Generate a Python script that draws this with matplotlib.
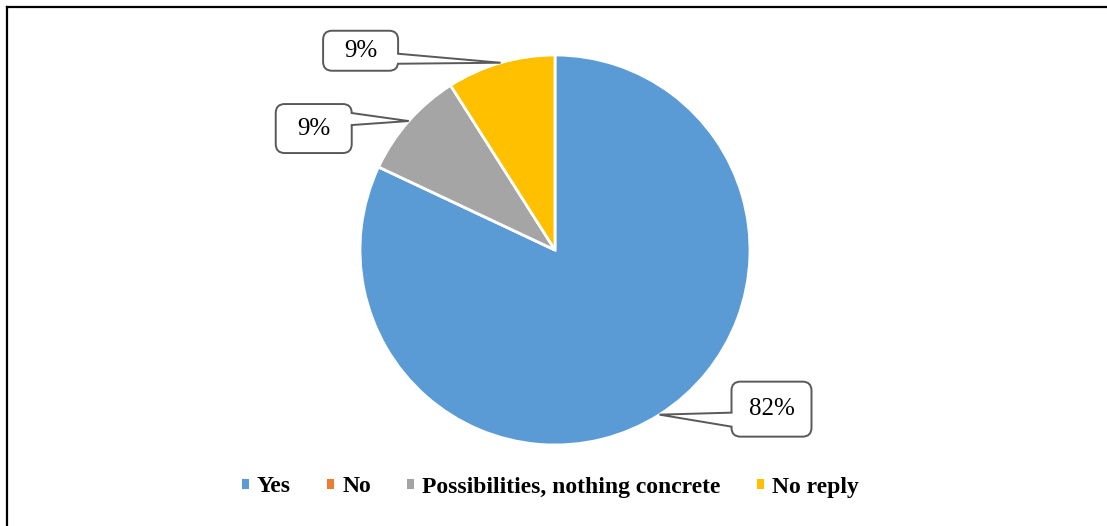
import matplotlib
matplotlib.use('Agg')
import matplotlib.pyplot as plt
import numpy as np
from matplotlib.patches import FancyBboxPatch, Polygon, Patch
from matplotlib.lines import Line2D

# ---- data ----
categories = ['Yes', 'No', 'Possibilities, nothing concrete', 'No reply']
values = [82, 0, 9, 9]
colors = ['#5B9BD5', '#ED7D31', '#A5A5A5', '#FFC000']

# ---- layout (pixels) ----
W, H = 1107, 526
fig = plt.figure(figsize=(W / 100, H / 100), dpi=100)
ax = fig.add_axes([0, 0, 1, 1])
cx, cy, R = 555, H - 250, 195

wedges, _ = ax.pie(values, colors=colors, startangle=90, counterclock=False,
                   center=(cx, cy), radius=R,
                   wedgeprops=dict(edgecolor='white', linewidth=2))
ax.set_xlim(0, W)
ax.set_ylim(0, H)
ax.set_aspect('auto')
ax.axis('off')

# callout layout per slice: (box-center offset from tip, box size, base offsets rel. box center)
callouts = {
    0: dict(off=(112, 5.5), size=(80, 55), side='left', base=(-3.5, -17.5)),
    2: dict(off=(-95, -7.5), size=(76, 49), side='right', base=(15.5, 3.5)),
    3: dict(off=(-140, 12), size=(75, 40), side='right', base=(-3, -13)),
}
serif = 'Liberation Serif'
edge_c = '#595959'
total = sum(values)
for i, spec in callouts.items():
    w = wedges[i]
    mid = np.deg2rad((w.theta1 + w.theta2) / 2)
    tx, ty = cx + R * np.cos(mid), cy + R * np.sin(mid)
    bx, by = tx + spec['off'][0], ty + spec['off'][1]
    bw, bh = spec['size']
    box = FancyBboxPatch((bx - bw / 2, by - bh / 2), bw, bh,
                         boxstyle='round,pad=0,rounding_size=9',
                         fc='white', ec=edge_c, lw=1.4, zorder=5)
    ax.add_patch(box)
    ex = bx - bw / 2 if spec['side'] == 'left' else bx + bw / 2
    inward = 3 if spec['side'] == 'left' else -3
    b1 = (ex, by + spec['base'][0])
    b2 = (ex, by + spec['base'][1])
    poly = Polygon([(ex + inward, b1[1]), b1, (tx, ty), b2, (ex + inward, b2[1])],
                   closed=True, fc='white', ec='none', zorder=6)
    ax.add_patch(poly)
    ax.plot([b1[0], tx, b2[0]], [b1[1], ty, b2[1]], color=edge_c, lw=1.4,
            zorder=7, solid_joinstyle='miter')
    pct = round(100 * values[i] / total)
    ax.text(bx, by, f'{pct}%', ha='center', va='center', fontsize=18,
            family=serif, color='black', zorder=8)

# frame lines (top and left)
fig.add_artist(Line2D([7 / W, 7 / W], [0, 1 - 7 / H], transform=fig.transFigure,
                      color='black', lw=1.6))
fig.add_artist(Line2D([7 / W, 1], [1 - 7 / H, 1 - 7 / H], transform=fig.transFigure,
                      color='black', lw=1.6))

handles = [Patch(facecolor=c, edgecolor='none') for c in colors]
fig.legend(handles, categories, loc='center', bbox_to_anchor=(0.497, 1 - 487 / H),
           ncol=4, frameon=False,
           prop=dict(family=serif, weight='bold', size=17),
           handlelength=0.3, handleheight=0.3, handletextpad=0.34,
           columnspacing=1.53, borderpad=0)

fig.savefig('out.png', dpi=100)
